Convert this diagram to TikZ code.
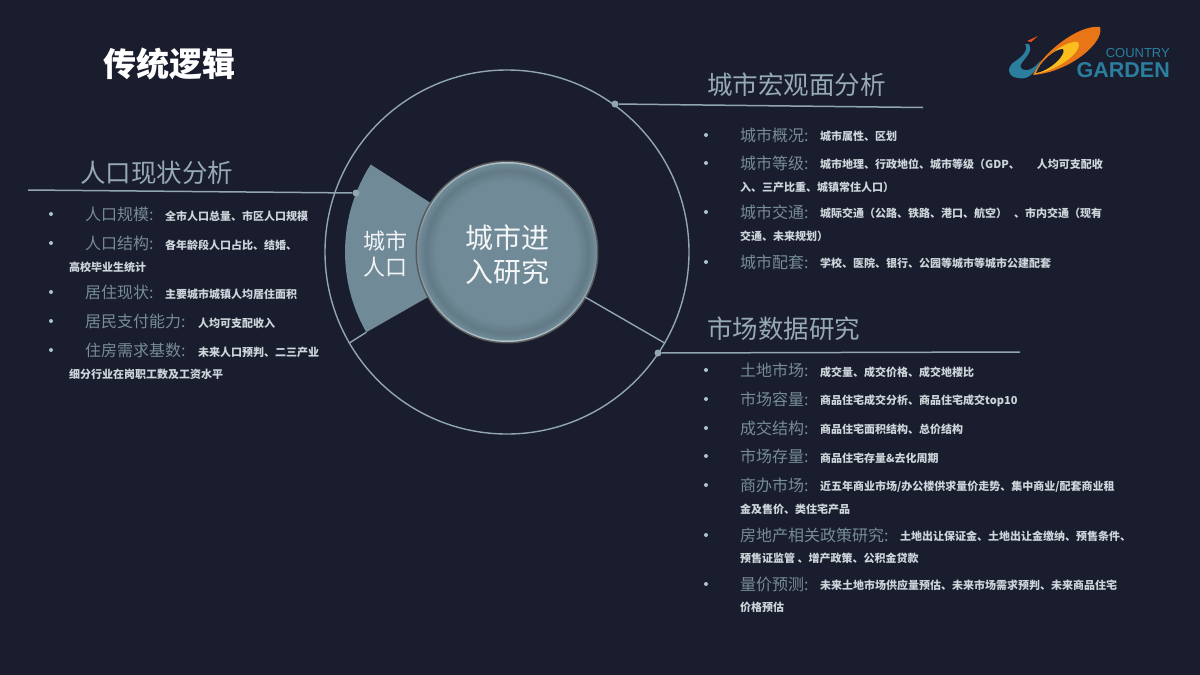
\documentclass[tikz,border=0pt]{standalone}
\usepackage{fontspec}
\setmainfont{Noto Sans CJK SC}
\newfontfamily\logofont{Liberation Sans}
\usetikzlibrary{positioning, calc}
\newcommand{\parizq}{\symbol{"FF08}}
\newcommand{\parder}{\symbol{"FF09}}
\definecolor{fondo}{RGB}{25,29,46}
\definecolor{acero}{RGB}{112,138,151}
\definecolor{aceroclaro}{RGB}{176,195,203}
\definecolor{acerooscuro}{RGB}{98,122,134}
\definecolor{linea}{RGB}{146,166,175}
\definecolor{cabeza}{RGB}{150,170,178}
\definecolor{etiqueta}{RGB}{118,140,150}
\definecolor{detalle}{RGB}{206,213,218}
\definecolor{azullogo}{RGB}{44,126,158}
\definecolor{naranja}{RGB}{232,118,22}
\definecolor{amarillo}{RGB}{250,190,30}
\pgfdeclareradialshading{knobface}{\pgfpointorigin}{color(0bp)=(acero); color(20bp)=(acero); color(23bp)=(acerooscuro); color(25bp)=(acero); color(50bp)=(acero)}
\tikzset{
	headtext/.style={anchor=west, inner sep=0pt, text=cabeza, font=\fontsize{25.5}{30}\selectfont},
	itemtext/.style={anchor=west, inner sep=0pt, text=etiqueta, font=\fontsize{16}{19}\selectfont},
	detailtext/.style={anchor=west, inner sep=0pt, text=detalle, font=\bfseries\fontsize{11}{13}\selectfont},
	bulletdot/.style={circle, fill=aceroclaro, inner sep=0pt, minimum size=4pt},
	leaderdot/.style={circle, fill=linea, inner sep=0pt, minimum size=7pt},
	leaderline/.style={linea, line width=1.5pt},
	ringline/.style={linea, line width=1.4pt}
}

\begin{document}
\begin{tikzpicture}[x=1pt, y=1pt]
	\useasboundingbox (0,0) rectangle (1200,-675);
	\fill[fondo] (0,0) rectangle (1200,-675);

	% centre
	\coordinate (center) at (507,-252);
	\node[circle, draw=linea, line width=1.4pt, inner sep=0pt, minimum size=364pt] (ring) at (center) {};
	\fill[acero] (center) -- ($(center)+(147.3:162)$) arc[start angle=147.3, end angle=209.7, radius=162] coordinate (sectorend) -- cycle;
	\fill[black!65] (center) circle [radius=91.5];
	\shade[top color=aceroclaro, bottom color=aceroclaro, middle color=acero] (center) circle [radius=90];
	\node[circle, shading=knobface, inner sep=0pt, minimum size=177pt] (hubface) at (center) {};
	\node[circle, inner sep=0pt, minimum size=180pt] (hub) at (center) {};
	\node[inner sep=0pt, align=center, text=white!92!acero, font=\fontsize{28}{34}\selectfont] (hubtext) at (507,-255) {城市进\\入研究};
	\node[inner sep=0pt, align=center, text=white!90!acero, font=\fontsize{22}{26.5}\selectfont] (sectortext) at (385,-254) {城市\\人口};
	\draw[ringline] (sectorend) -- (ring.210);
	\draw[ringline] (hub.-30) -- (ring.-30);

	% title
	\node[anchor=west, inner sep=0pt, text=white, font=\bfseries\fontsize{33}{38}\selectfont] (title) at (103,-64) {传统逻辑};

	% logo
	\fill[naranja] (1033,-75) .. controls (1040,-55) and (1078,-24) .. (1100,-27) .. controls (1105,-42) and (1070,-72) .. (1033,-75) -- cycle;
	\fill[amarillo] (1035,-74) .. controls (1042,-58) and (1066,-40) .. (1078,-42) .. controls (1084,-50) and (1060,-70) .. (1035,-74) -- cycle;
	\fill[fondo] (1036,-73) .. controls (1040,-62) and (1054,-49) .. (1063,-49) .. controls (1067,-54) and (1050,-71) .. (1036,-73) -- cycle;
	\fill[azullogo] (1025,-44) .. controls (1029,-50) and (1022,-57) .. (1014,-62) .. controls (1006,-68) and (1008,-77) .. (1018,-78) .. controls (1026,-80) and (1034,-76) .. (1041,-60) .. controls (1034,-69) and (1026,-73) .. (1021,-68) .. controls (1017,-63) and (1035,-54) .. (1029,-44) -- cycle;
	\fill[naranja!70!red] (1027,-41) -- (1038,-36) -- (1031,-42) -- cycle;
	\node[anchor=east, inner sep=0pt, text=azullogo, font=\logofont\fontsize{13}{15}\selectfont] (logoup) at (1170,-53) {COUNTRY};
	\node[anchor=east, inner sep=0pt, text=azullogo, font=\logofont\bfseries\fontsize{21.5}{25}\selectfont] (logodown) at (1170,-70) {GARDEN};

	% city panel
	\node[leaderdot] (citydot) at (615,-104) {};
	\coordinate (cityend) at (923,-107.5);
	\draw[leaderline] (citydot) -- (cityend);
	\node[headtext] (cityhead) at (707,-85) {城市宏观面分析};
	\foreach \y in {135,163,212,262} \node[bulletdot] at (706,-\y) {};
	\node[itemtext] (city1) at (740,-135) {城市概况:};
	\node[detailtext] (city1d) at (820,-136) {城市属性、区划};
	\node[itemtext] (city2) at (740,-163) {城市等级:};
	\node[detailtext] (city2d) at (820,-164) {城市地理、行政地位、城市等级\parizq GDP、\hspace*{17pt}人均可支配收};
	\node[detailtext] (city2e) at (740,-187) {入、三产比重、城镇常住人口\parder};
	\node[itemtext] (city3) at (740,-212) {城市交通:};
	\node[detailtext] (city3d) at (820,-213) {城际交通\parizq 公路、铁路、港口、航空\parder\hspace*{7pt}、市内交通\parizq 现有};
	\node[detailtext] (city3e) at (740,-236) {交通、未来规划\parder};
	\node[itemtext] (city4) at (740,-262) {城市配套:};
	\node[detailtext] (city4d) at (820,-263) {学校、医院、银行、公园等城市等城市公建配套};

	% population panel
	\node[leaderdot] (popdot) at (356,-193) {};
	\coordinate (popend) at (28,-190);
	\draw[leaderline] (popdot) -- (popend);
	\node[headtext] (pophead) at (80,-173) {人口现状分析};
	\foreach \y in {214,243,292,321,350} \node[bulletdot] at (51,-\y) {};
	\node[itemtext] (pop1) at (85,-214) {人口规模:};
	\node[detailtext] (pop1d) at (165,-216) {全市人口总量、市区人口规模};
	\node[itemtext] (pop2) at (85,-243) {人口结构:};
	\node[detailtext] (pop2d) at (165,-245) {各年龄段人口占比、结婚、};
	\node[detailtext] (pop2e) at (69,-267) {高校毕业生统计};
	\node[itemtext] (pop3) at (85,-292) {居住现状:};
	\node[detailtext] (pop3d) at (165,-294) {主要城市城镇人均居住面积};
	\node[itemtext] (pop4) at (85,-321) {居民支付能力:};
	\node[detailtext] (pop4d) at (198,-323) {人均可支配收入};
	\node[itemtext] (pop5) at (85,-350) {住房需求基数:};
	\node[detailtext] (pop5d) at (198,-352) {未来人口预判、二三产业};
	\node[detailtext] (pop5e) at (69,-374) {细分行业在岗职工数及工资水平};

	% market panel
	\node[leaderdot] (marketdot) at (658,-353) {};
	\coordinate (marketend) at (1020,-352);
	\draw[leaderline] (marketdot) -- (marketend);
	\node[headtext] (markethead) at (707,-329) {市场数据研究};
	\foreach \y in {370,399,428,456,485,535,584} \node[bulletdot] at (706,-\y) {};
	\node[itemtext] (market1) at (740,-370) {土地市场:};
	\node[detailtext] (market1d) at (820,-372) {成交量、成交价格、成交地楼比};
	\node[itemtext] (market2) at (740,-399) {市场容量:};
	\node[detailtext] (market2d) at (820,-401) {商品住宅成交分析、商品住宅成交top10};
	\node[itemtext] (market3) at (740,-428) {成交结构:};
	\node[detailtext] (market3d) at (820,-429) {商品住宅面积结构、总价结构};
	\node[itemtext] (market4) at (740,-456) {市场存量:};
	\node[detailtext] (market4d) at (820,-458) {商品住宅存量\&去化周期};
	\node[itemtext] (market5) at (740,-485) {商办市场:};
	\node[detailtext] (market5d) at (820,-487) {近五年商业市场/办公楼供求量价走势、集中商业/配套商业租};
	\node[detailtext] (market5e) at (740,-509) {金及售价、类住宅产品};
	\node[itemtext] (market6) at (740,-535) {房地产相关政策研究:};
	\node[detailtext] (market6d) at (900,-536) {土地出让保证金、土地出让金缴纳、预售条件、};
	\node[detailtext] (market6e) at (740,-558) {预售证监管 、增产政策、公积金贷款};
	\node[itemtext] (market7) at (740,-584) {量价预测:};
	\node[detailtext] (market7d) at (820,-585) {未来土地市场供应量预估、未来市场需求预判、未来商品住宅};
	\node[detailtext] (market7e) at (740,-607) {价格预估};
\end{tikzpicture}
\end{document}
